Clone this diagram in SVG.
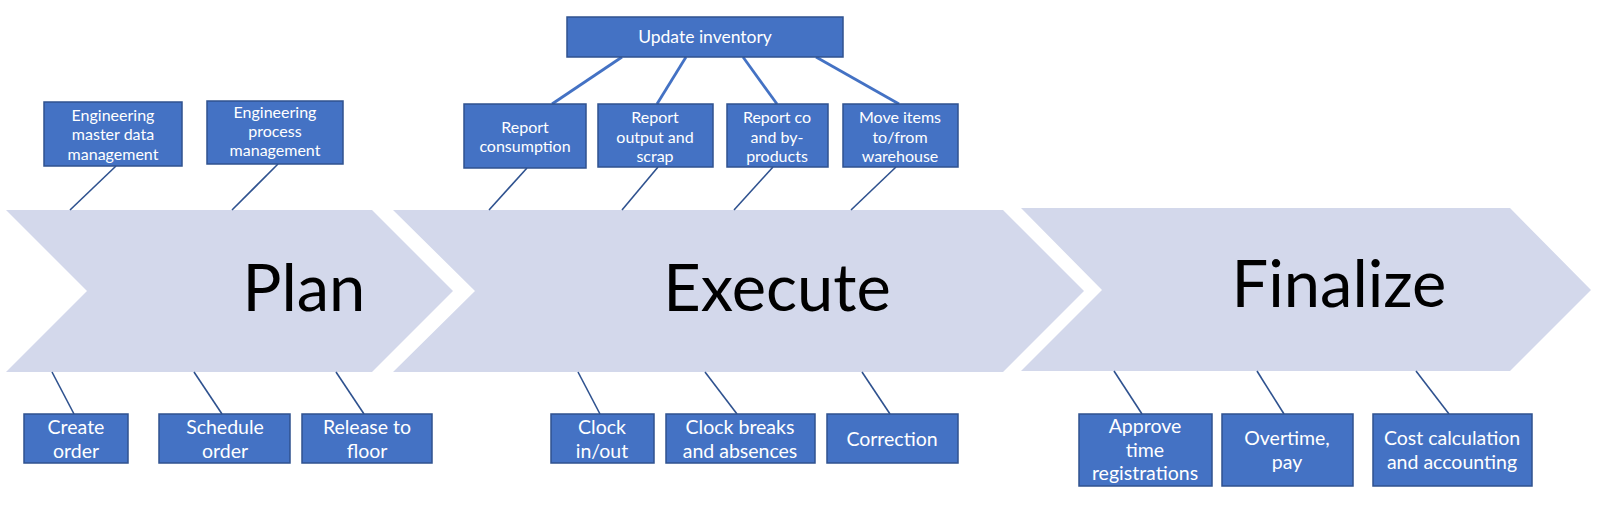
<svg xmlns="http://www.w3.org/2000/svg" width="1598" height="507" viewBox="0 0 1598 507">
<style>
.chev{fill:#D3D8EB;stroke:none}
.big{font-family:Lato,"Liberation Sans",sans-serif;font-size:65px;fill:#000;text-anchor:middle}
.box{fill:#4472C4;stroke:#2F528F;stroke-width:1.5}
.t{font-family:Lato,"Liberation Sans",sans-serif;fill:#fff;text-anchor:middle}
.s{font-size:16px}
.m{font-size:17.5px}
.l{font-size:19.5px}
.c1{stroke:#2F528F;stroke-width:1.6;fill:none}
.c2{stroke:#4472C4;stroke-width:2.8;fill:none}
</style>
<rect width="1598" height="507" fill="#fff"/>
<g id="phases">
<g id="plan"><polygon class="chev" points="6,210 372,210 453,291 372,372 6,372 87,291"/><text class="big" x="304" y="311">Plan</text></g>
<g id="execute"><polygon class="chev" points="393,210 1003,210 1084,291 1003,372 393,372 475,291"/><text class="big" x="777" y="311">Execute</text></g>
<g id="finalize"><polygon class="chev" points="1021,208 1510,208 1591,290 1510,371 1021,371 1102,290"/><text class="big" x="1339" y="307">Finalize</text></g>
</g>
<g id="connectors">
<line class="c1" x1="116" y1="166" x2="70" y2="210"/>
<line class="c1" x1="278" y1="164" x2="232" y2="210"/>
<line class="c2" x1="622" y1="57" x2="552" y2="104" stroke-width="3.6"/>
<line class="c2" x1="686" y1="57" x2="657" y2="104"/>
<line class="c2" x1="743" y1="57" x2="777" y2="104"/>
<line class="c2" x1="816" y1="57" x2="899" y2="104"/>
<line class="c1" x1="527" y1="168" x2="489" y2="210"/>
<line class="c1" x1="658" y1="167" x2="622" y2="210"/>
<line class="c1" x1="773" y1="167" x2="734" y2="210"/>
<line class="c1" x1="896" y1="167" x2="851" y2="210"/>
<line class="c1" x1="52" y1="372" x2="74" y2="414"/>
<line class="c1" x1="194" y1="372" x2="222" y2="414"/>
<line class="c1" x1="336" y1="372" x2="364" y2="414"/>
<line class="c1" x1="578" y1="372" x2="600" y2="414"/>
<line class="c1" x1="705" y1="372" x2="737" y2="414"/>
<line class="c1" x1="862" y1="372" x2="890" y2="414"/>
<line class="c1" x1="1114" y1="371" x2="1142" y2="414"/>
<line class="c1" x1="1257" y1="371" x2="1284" y2="414"/>
<line class="c1" x1="1416" y1="371" x2="1449" y2="414"/>
</g>
<g id="eng-master"><rect class="box" x="44" y="102" width="138" height="64"/><text class="t s" x="113"><tspan x="113" y="120.5">Engineering</tspan><tspan x="113" y="140">master data</tspan><tspan x="113" y="159.5">management</tspan></text></g>
<g id="eng-process"><rect class="box" x="207" y="101" width="136" height="63"/><text class="t s" x="275"><tspan x="275" y="118">Engineering</tspan><tspan x="275" y="137">process</tspan><tspan x="275" y="156">management</tspan></text></g>
<g id="update-inventory"><rect class="box" x="567" y="17" width="276" height="40"/><text class="t m" x="705" y="43">Update inventory</text></g>
<g id="report-consumption"><rect class="box" x="464" y="104" width="122" height="64"/><text class="t s" x="525"><tspan x="525" y="133">Report</tspan><tspan x="525" y="152">consumption</tspan></text></g>
<g id="report-output"><rect class="box" x="598" y="104" width="115" height="63"/><text class="t s" x="655"><tspan x="655" y="123">Report</tspan><tspan x="655" y="142.5">output and</tspan><tspan x="655" y="162">scrap</tspan></text></g>
<g id="report-co"><rect class="box" x="727" y="104" width="101" height="63"/><text class="t s" x="777"><tspan x="777" y="123">Report co</tspan><tspan x="777" y="142.5">and by-</tspan><tspan x="777" y="162">products</tspan></text></g>
<g id="move-items"><rect class="box" x="843" y="104" width="115" height="63"/><text class="t s" x="900"><tspan x="900" y="123">Move items</tspan><tspan x="900" y="142.5">to/from</tspan><tspan x="900" y="162">warehouse</tspan></text></g>
<g id="create-order"><rect class="box" x="24" y="414" width="104" height="49"/><text class="t l"><tspan x="76" y="433.5">Create</tspan><tspan x="76" y="458">order</tspan></text></g>
<g id="schedule-order"><rect class="box" x="159" y="414" width="131" height="49"/><text class="t l"><tspan x="225" y="433.5">Schedule</tspan><tspan x="225" y="458">order</tspan></text></g>
<g id="release-floor"><rect class="box" x="302" y="414" width="130" height="49"/><text class="t l"><tspan x="367" y="433.5">Release to</tspan><tspan x="367" y="458">floor</tspan></text></g>
<g id="clock-inout"><rect class="box" x="551" y="414" width="103" height="49"/><text class="t l"><tspan x="602" y="433.5">Clock</tspan><tspan x="602" y="458">in/out</tspan></text></g>
<g id="clock-breaks"><rect class="box" x="666" y="414" width="149" height="49"/><text class="t l"><tspan x="740" y="433.5">Clock breaks</tspan><tspan x="740" y="458">and absences</tspan></text></g>
<g id="correction"><rect class="box" x="827" y="414" width="131" height="49"/><text class="t l" x="892" y="445.5">Correction</text></g>
<g id="approve"><rect class="box" x="1079" y="414" width="133" height="72"/><text class="t l"><tspan x="1145" y="433">Approve</tspan><tspan x="1145" y="457">time</tspan><tspan x="1145" y="480">registrations</tspan></text></g>
<g id="overtime"><rect class="box" x="1222" y="414" width="131" height="72"/><text class="t l"><tspan x="1287" y="445">Overtime,</tspan><tspan x="1287" y="469">pay</tspan></text></g>
<g id="cost-calc"><rect class="box" x="1373" y="414" width="159" height="72"/><text class="t l"><tspan x="1452" y="445">Cost calculation</tspan><tspan x="1452" y="469">and accounting</tspan></text></g>
</svg>
